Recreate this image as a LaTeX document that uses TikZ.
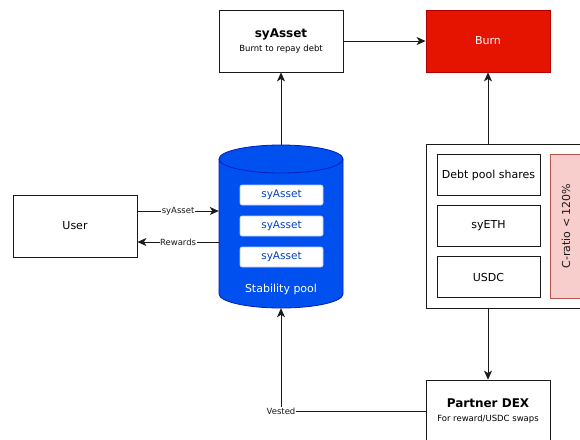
\documentclass[tikz,border=0pt]{standalone}
\usepackage{fontspec}
\setmainfont{DejaVu Sans}
\usetikzlibrary{arrows.meta}
\definecolor{poolblue}{HTML}{0050EF}
\definecolor{pooledge}{HTML}{001DBC}
\definecolor{burnred}{HTML}{E51400}
\definecolor{burnedge}{HTML}{B20000}
\definecolor{warnfill}{HTML}{F8CECC}
\definecolor{warnedge}{HTML}{B85450}
\definecolor{linegray}{HTML}{1A1A1A}
\tikzset{
  box/.style={draw=linegray, line width=0.8pt, fill=white, inner sep=0pt, align=center, font=\fontsize{11}{13}\selectfont},
  token/.style={draw=poolblue!30, line width=0.6pt, fill=white, rounded corners=2pt, minimum width=83pt, minimum height=20pt, inner sep=0pt, text=poolblue!80!black, font=\fontsize{10.5}{12}\selectfont},
  arr/.style={draw=linegray, line width=0.8pt, -{Stealth[length=9pt,width=8pt,inset=2.5pt]}},
  lbl/.style={fill=white, inner sep=0.5pt, font=\fontsize{8.5}{10}\selectfont, text=linegray},
}
\begin{document}
\begin{tikzpicture}[x=1pt,y=-1pt]
\useasboundingbox (0,0) rectangle (580,439);
\clip (0,0) rectangle (580,439);

% user
\node[box, minimum width=124pt, minimum height=62pt] (user) at (75,226) {User};

% top row
\node[box, minimum width=124pt, minimum height=62pt] (burnt) at (281,41)
  {{\fontsize{12}{14}\bfseries\selectfont syAsset}\\[1pt]{\fontsize{8.5}{10}\selectfont Burnt to repay debt}};
\node[box, draw=burnedge, fill=burnred, text=white, minimum width=124pt, minimum height=62pt] (burn) at (488,41) {Burn};

% stability pool cylinder
\fill[poolblue, draw=pooledge, line width=0.8pt]
  (219,159) -- (219,294) arc[start angle=180, end angle=360, x radius=62pt, y radius=14pt]
  -- (343,159) arc[start angle=0, end angle=180, x radius=62pt, y radius=14pt] -- cycle;
\draw[pooledge, line width=0.8pt] (219,159) arc[start angle=180, end angle=360, x radius=62pt, y radius=14pt];
\node[minimum width=124pt, minimum height=163pt, inner sep=0pt] (pool) at (281,226.5) {};
\node[text=white, font=\fontsize{11}{12}\selectfont] (poollbl) at (281,289) {Stability pool};
\node[token] (t1) at (281.5,195) {syAsset};
\node[token] (t2) at (281.5,226) {syAsset};
\node[token] (t3) at (281.5,257) {syAsset};

% debt position container
\node[box, anchor=north west, minimum width=180pt, minimum height=164pt] (pos) at (426,144) {};
\node[box, minimum width=103pt, minimum height=41pt] (debt) at (488.5,175) {Debt pool shares};
\node[box, minimum width=103pt, minimum height=41pt] (syeth) at (488.5,226) {syETH};
\node[box, minimum width=103pt, minimum height=41pt] (usdc) at (488.5,277) {USDC};
\node[draw=warnedge, fill=warnfill, line width=0.6pt, anchor=north west, minimum width=34pt, minimum height=144pt, inner sep=0pt] (cratio) at (550,154) {};
\node[rotate=90, font=\fontsize{11}{12}\selectfont, text=linegray] (cratiolbl) at (566,226) {C-ratio < 120\%};

% partner dex
\node[box, minimum width=124pt, minimum height=62pt] (dex) at (488,411)
  {{\fontsize{12}{14}\bfseries\selectfont Partner DEX}\\[1pt]{\fontsize{8.5}{10}\selectfont For reward/USDC swaps}};

% connectors
\draw[arr] ([yshift=15pt]user.east) -- ([yshift=15pt]user.east -| pool.west)
  node[lbl, midway] {syAsset};
\draw[arr] ([yshift=-16pt]user.east -| pool.west) -- ([yshift=-16pt]user.east)
  node[lbl, midway] {Rewards};
\draw[arr] (pool.north) -- (burnt.south);
\draw[arr] (burnt.east) -- (burn.west);
\draw[arr] (burn.south |- pos.north) -- (burn.south);
\draw[arr] (dex.north |- pos.south) -- (dex.north);
\coordinate (bend) at (pool.south |- dex.west);
\draw[arr] (dex.west) -- (bend) -- (pool.south);
\node[lbl] (vested) at (bend) {Vested};
\end{tikzpicture}
\end{document}
